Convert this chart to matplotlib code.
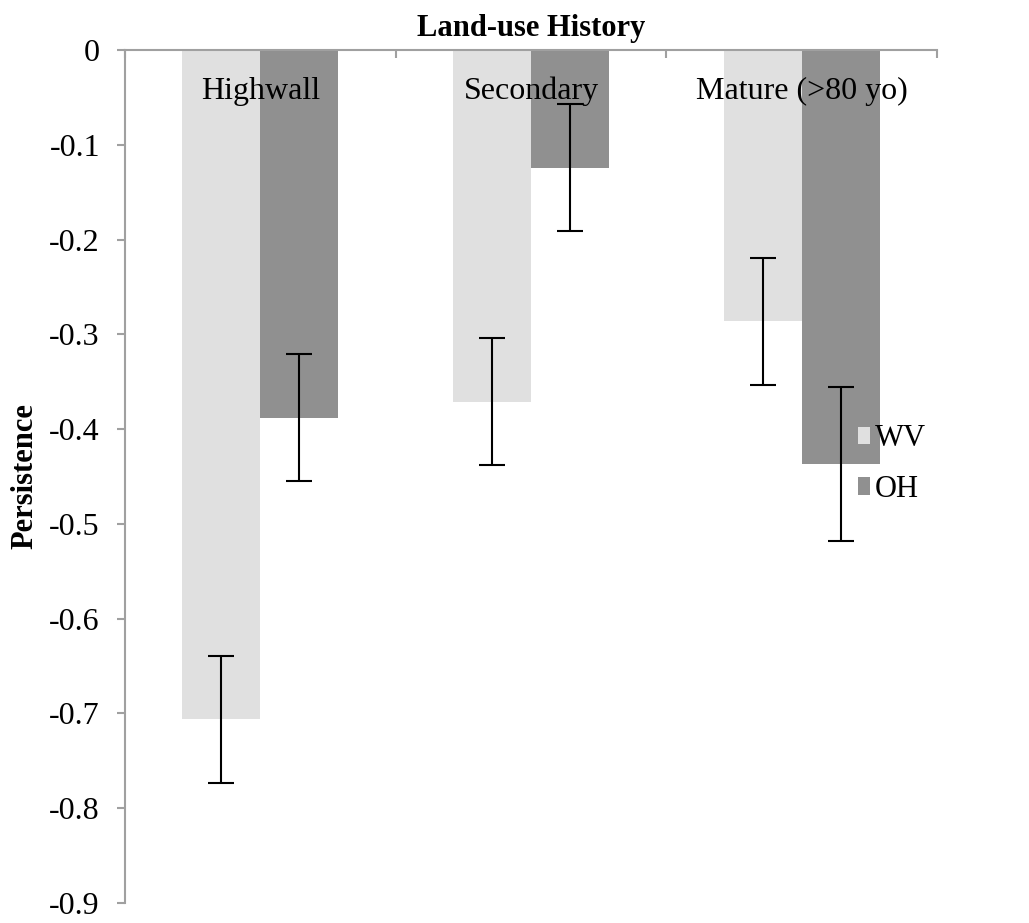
import matplotlib
matplotlib.use("Agg")
import matplotlib.pyplot as plt
import numpy as np
from matplotlib.ticker import FixedLocator, FixedFormatter

categories = ["Highwall", "Secondary", "Mature (>80 yo)"]
series_names = ["WV", "OH"]
wv_values = [-0.706, -0.371, -0.286]
oh_values = [-0.388, -0.124, -0.437]
wv_errors = [0.067, 0.067, 0.067]
oh_errors = [0.067, 0.067, 0.0815]
y_ticks = [0, -0.1, -0.2, -0.3, -0.4, -0.5, -0.6, -0.7, -0.8, -0.9]
y_tick_labels = ["0", "-0.1", "-0.2", "-0.3", "-0.4", "-0.5", "-0.6", "-0.7", "-0.8", "-0.9"]

plt.rcParams['font.family'] = ['Liberation Serif', 'DejaVu Serif']
plt.rcParams['axes.unicode_minus'] = False

fig = plt.figure(figsize=(10.29, 9.23), dpi=100)
ax = fig.add_axes([125/1029, 1-903/923, (937-125)/1029, (903-50)/923])
ax.set_axisbelow(False)

x = np.arange(len(categories))
w = 0.288
spine_col = "#a0a0a0"
err_kw = dict(ecolor="black", elinewidth=1.5, capsize=9.4, capthick=1.5)

ax.bar(x - w/2, wv_values, width=w, color="#e0e0e0", label=series_names[0],
       yerr=wv_errors, error_kw=err_kw, zorder=2)
ax.bar(x + w/2, oh_values, width=w, color="#909090", label=series_names[1],
       yerr=oh_errors, error_kw=err_kw, zorder=2)

ax.set_xlim(-0.5, len(categories) - 0.5)
ax.set_ylim(-0.9, 0)

for s in ["bottom", "right"]:
    ax.spines[s].set_visible(False)
for s in ["left", "top"]:
    ax.spines[s].set_color(spine_col)
    ax.spines[s].set_linewidth(1.5)
    ax.spines[s].set_zorder(3)

ax.yaxis.set_major_locator(FixedLocator(y_ticks))
ax.yaxis.set_major_formatter(FixedFormatter(y_tick_labels))
ax.tick_params(axis='y', direction='out', length=6, width=1.5, color=spine_col,
               labelsize=23, pad=12)

ax.xaxis.set_ticks_position('top')
ax.xaxis.set_major_locator(FixedLocator(list(np.arange(len(categories) + 1) - 0.5)))
ax.xaxis.set_major_formatter(FixedFormatter([""] * (len(categories) + 1)))
ax.xaxis.set_minor_locator(FixedLocator(list(x)))
ax.xaxis.set_minor_formatter(FixedFormatter(categories))
ax.tick_params(axis='x', which='major', direction='in', length=6, width=1.5,
               color=spine_col, top=True, bottom=False, labeltop=False, labelbottom=False)
ax.tick_params(axis='x', which='minor', length=0, top=False, bottom=False,
               labeltop=True, labelbottom=False, labelsize=23, pad=-40)

ax.set_title("Land-use History", fontsize=22, fontweight='bold', pad=10)
ax.set_ylabel("Persistence", fontsize=22, fontweight='bold', labelpad=7)

ax.legend(loc='center left', bbox_to_anchor=(858/1029, 1-464/923),
          bbox_transform=fig.transFigure, frameon=False, fontsize=22,
          handlelength=0.4, handleheight=0.5, handletextpad=0.15,
          labelspacing=0.7, borderpad=0, borderaxespad=0)

fig.savefig("out.png", dpi=100)
